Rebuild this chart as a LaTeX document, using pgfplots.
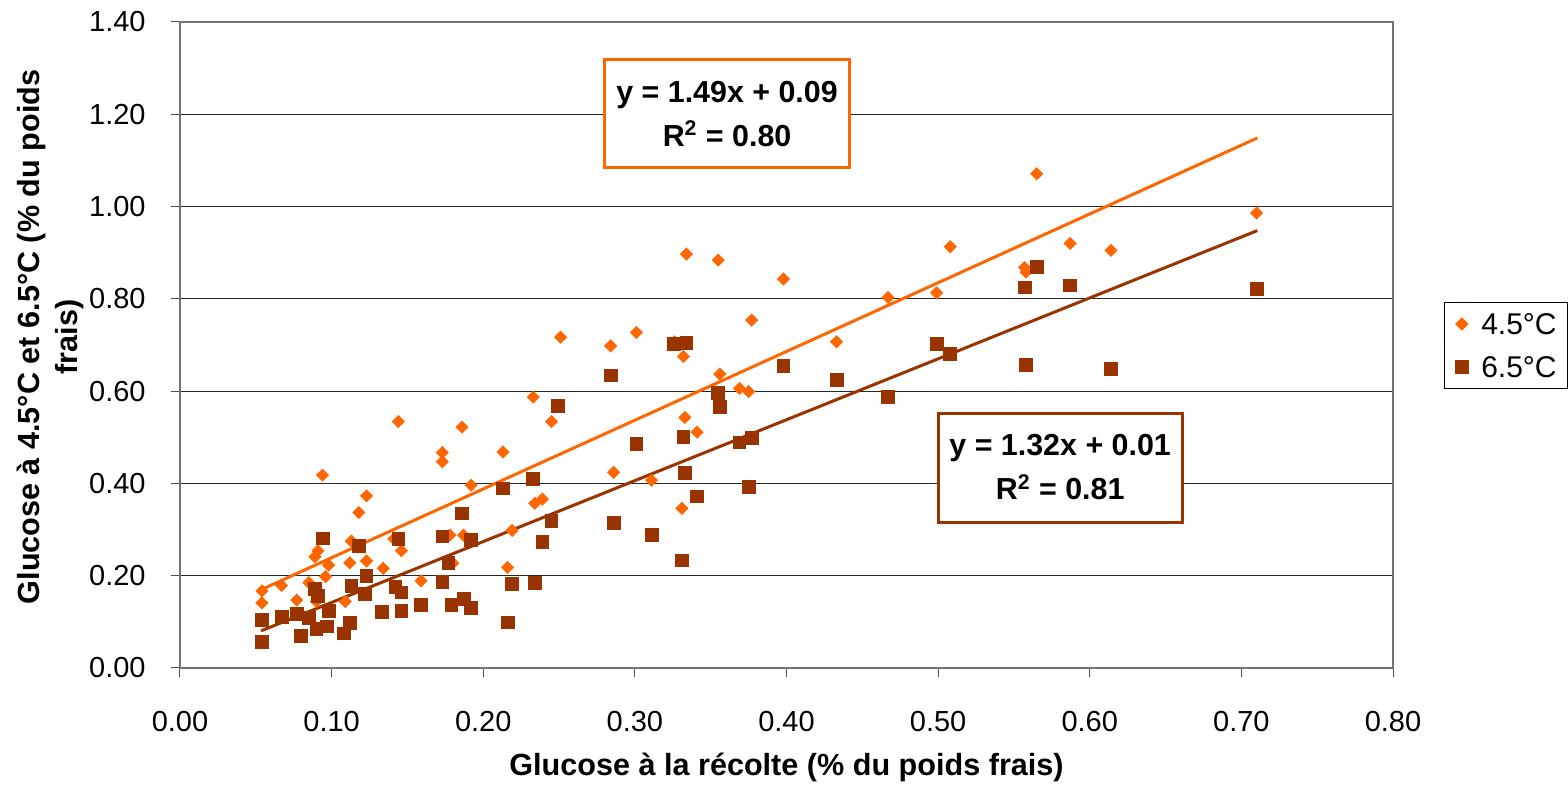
\documentclass[border=0pt]{standalone}
\usepackage{fontspec}
\setmainfont{Liberation Sans}
\usepackage{pgfplots}
\pgfplotsset{compat=1.18}

\definecolor{orng}{HTML}{FF6600}
\definecolor{brwn}{HTML}{993300}

\pgfplotsset{myleg/.style={legend image code/.code={%
  \draw[##1] plot coordinates {(0pt,0pt)};}}}

\begin{document}
\begin{tikzpicture}
\begin{axis}[
    at={(0,0)}, anchor=south west,
    scale only axis,
    width=606.5pt, height=323pt,
    xmin=0, xmax=0.8, ymin=0, ymax=1.4,
    xtick={0,0.1,...,0.8}, ytick={0,0.2,...,1.4},
    xtick pos=bottom, ytick pos=left,
    tick align=outside, major tick length=4.5pt,
    tick style={draw=black!70, line width=0.5pt},
    ymajorgrids, grid style={draw=black!85, line width=0.5pt},
    axis line style={draw=black!55, line width=1pt},
    /pgf/number format/.cd, fixed, fixed zerofill, precision=2, assume math mode=true,
    /pgfplots/.cd,
    ticklabel style={font=\fontsize{14.5}{17}\selectfont},
    xticklabel style={anchor=center, yshift=-22.25pt, inner sep=0pt},
    yticklabel style={anchor=east, xshift=-12.5pt, inner sep=0pt},
    xlabel={Glucose à la récolte (\% du poids frais)},
    xlabel style={at={(axis description cs:0.5,0)}, anchor=center, yshift=-49.5pt,
        font=\bfseries\fontsize{15.3}{17}\selectfont},
    ylabel={Glucose à 4.5°C et 6.5°C (\% du poids\\frais)},
    ylabel style={at={(axis description cs:-0.1072,0.5124)}, anchor=center, align=center,
        font=\bfseries\fontsize{15.3}{19}\selectfont},
    legend style={at={(axis description cs:1.042,0.5666)}, anchor=north west,
        draw=black, line width=0.5pt,
        inner xsep=5.5pt, inner ysep=0pt, row sep=0pt,
        nodes={inner sep=0pt, text height=16.15pt, text depth=5.35pt,
               font=\fontsize{15}{18}\selectfont},
        /tikz/every odd column/.append style={column sep=6.5pt}},
    legend cell align=left,
]
\addplot[orng, line width=1.5pt, forget plot] coordinates {(0.0535,0.1697) (0.7105,1.1486)};
\addplot[brwn, line width=1.5pt, forget plot] coordinates {(0.0535,0.0806) (0.7105,0.9479)};

\addplot[only marks, mark=square*, mark size=2.12pt, mark options={rotate=45, fill=orng, draw=orng}, myleg]
coordinates {
(0.054,0.167) (0.054,0.141) (0.067,0.179) (0.077,0.147) (0.085,0.185)
(0.089,0.241) (0.091,0.254) (0.090,0.144) (0.094,0.418) (0.096,0.198)
(0.098,0.223) (0.109,0.144) (0.112,0.228) (0.113,0.275) (0.118,0.337)
(0.123,0.373) (0.123,0.232) (0.134,0.216) (0.141,0.280) (0.144,0.534)
(0.146,0.254) (0.159,0.189) (0.173,0.467) (0.173,0.447) (0.178,0.288)
(0.180,0.227) (0.186,0.522) (0.187,0.288) (0.192,0.396) (0.213,0.468)
(0.216,0.218) (0.219,0.298) (0.233,0.587) (0.234,0.357) (0.239,0.366)
(0.245,0.534) (0.251,0.717) (0.284,0.698) (0.286,0.424) (0.301,0.727)
(0.311,0.407) (0.326,0.707) (0.331,0.346) (0.332,0.675) (0.333,0.543)
(0.334,0.897) (0.341,0.511) (0.355,0.884) (0.356,0.637) (0.369,0.606)
(0.375,0.599) (0.377,0.754) (0.398,0.843) (0.433,0.707) (0.467,0.803)
(0.499,0.813) (0.508,0.913) (0.557,0.868) (0.558,0.858) (0.565,1.071)
(0.587,0.920) (0.614,0.905) (0.710,0.986)
};
\addlegendentry{\fontsize{15}{18}\selectfont 4.5°C}

\addplot[only marks, mark=square*, mark size=3.2pt, mark options={fill=brwn, draw=brwn}, myleg]
coordinates {
(0.054,0.105) (0.054,0.057) (0.067,0.110) (0.077,0.118) (0.080,0.069)
(0.085,0.108) (0.089,0.171) (0.091,0.156) (0.090,0.084) (0.094,0.281)
(0.097,0.090) (0.098,0.124) (0.108,0.075) (0.112,0.098) (0.113,0.178)
(0.118,0.264) (0.122,0.160) (0.123,0.199) (0.133,0.122) (0.142,0.176)
(0.144,0.279) (0.146,0.124) (0.146,0.164) (0.159,0.137) (0.173,0.285)
(0.173,0.187) (0.177,0.228) (0.179,0.137) (0.186,0.335) (0.187,0.150)
(0.192,0.277) (0.192,0.131) (0.213,0.389) (0.216,0.099) (0.219,0.182)
(0.233,0.410) (0.234,0.184) (0.239,0.274) (0.245,0.319) (0.249,0.568)
(0.284,0.634) (0.286,0.315) (0.301,0.486) (0.311,0.289) (0.326,0.702)
(0.331,0.233) (0.332,0.501) (0.333,0.422) (0.334,0.705) (0.341,0.372)
(0.355,0.597) (0.356,0.566) (0.369,0.489) (0.375,0.392) (0.377,0.498)
(0.398,0.655) (0.433,0.625) (0.467,0.588) (0.499,0.702) (0.508,0.680)
(0.557,0.825) (0.558,0.657) (0.565,0.869) (0.587,0.829) (0.614,0.649)
(0.710,0.821)
};
\addlegendentry{\fontsize{15}{18}\selectfont 6.5°C}

\node[draw=orng, line width=1.5pt, fill=white, align=center,
      minimum width=122.5pt, minimum height=54pt, inner sep=0pt,
      font=\bfseries\fontsize{15.2}{22}\selectfont]
  at (axis cs:0.3608,1.2007) {y = 1.49x + 0.09\\R\textsuperscript{2} = 0.80};
\node[draw=brwn, line width=1.5pt, fill=white, align=center,
      minimum width=122pt, minimum height=54.5pt, inner sep=0pt,
      font=\bfseries\fontsize{15.2}{22}\selectfont]
  at (axis cs:0.5805,0.4345) {y = 1.32x + 0.01\\R\textsuperscript{2} = 0.81};
\end{axis}
\pgfresetboundingbox
\useasboundingbox (-90pt,-59pt) rectangle (694pt,334pt);
\end{tikzpicture}
\end{document}
